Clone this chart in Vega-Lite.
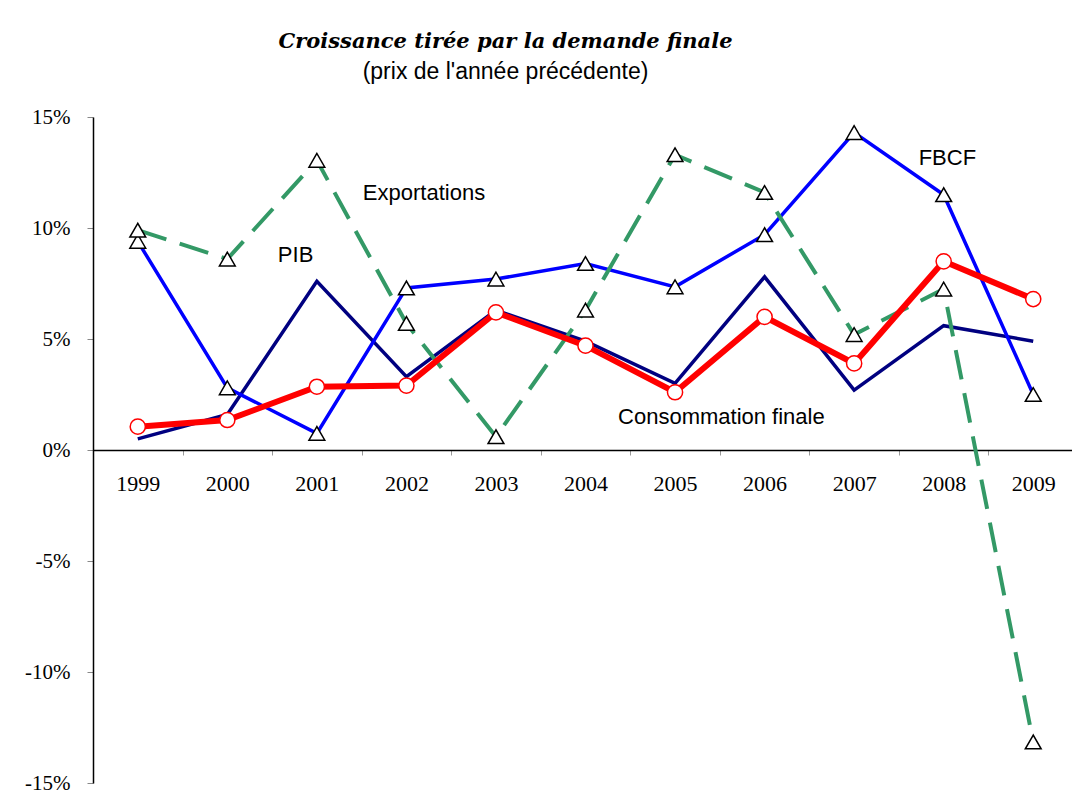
{
  "$schema": "https://vega.github.io/schema/vega-lite/v6.json",
  "width": 985,
  "height": 666,
  "autosize": {"type": "none"},
  "padding": {"left": 93, "top": 117, "right": 0, "bottom": 19},
  "background": "white",
  "config": {"view": {"stroke": null}},
  "title": {
    "text": "Croissance tirée par la demande finale",
    "subtitle": "(prix de l'année précédente)",
    "anchor": "middle",
    "frame": "group",
    "dx": -80,
    "offset": 22,
    "font": "DejaVu Serif",
    "fontSize": 21,
    "fontStyle": "italic",
    "fontWeight": "bold",
    "color": "black",
    "subtitleFont": "Liberation Sans",
    "subtitleFontSize": 23,
    "subtitleColor": "black",
    "subtitlePadding": 9
  },
  "datasets": {
    "series": [
      {"year": "1999", "serie": "PIB", "value": 0.5},
      {"year": "2000", "serie": "PIB", "value": 1.6},
      {"year": "2001", "serie": "PIB", "value": 7.6},
      {"year": "2002", "serie": "PIB", "value": 3.3},
      {"year": "2003", "serie": "PIB", "value": 6.3},
      {"year": "2004", "serie": "PIB", "value": 4.9},
      {"year": "2005", "serie": "PIB", "value": 3.0},
      {"year": "2006", "serie": "PIB", "value": 7.8},
      {"year": "2007", "serie": "PIB", "value": 2.7},
      {"year": "2008", "serie": "PIB", "value": 5.6},
      {"year": "2009", "serie": "PIB", "value": 4.9},
      {"year": "1999", "serie": "Consommation", "value": 1.05},
      {"year": "2000", "serie": "Consommation", "value": 1.35},
      {"year": "2001", "serie": "Consommation", "value": 2.85},
      {"year": "2002", "serie": "Consommation", "value": 2.9},
      {"year": "2003", "serie": "Consommation", "value": 6.2},
      {"year": "2004", "serie": "Consommation", "value": 4.7},
      {"year": "2005", "serie": "Consommation", "value": 2.6},
      {"year": "2006", "serie": "Consommation", "value": 6.0},
      {"year": "2007", "serie": "Consommation", "value": 3.9},
      {"year": "2008", "serie": "Consommation", "value": 8.5},
      {"year": "2009", "serie": "Consommation", "value": 6.8},
      {"year": "1999", "serie": "FBCF", "value": 9.4},
      {"year": "2000", "serie": "FBCF", "value": 2.8},
      {"year": "2001", "serie": "FBCF", "value": 0.75},
      {"year": "2002", "serie": "FBCF", "value": 7.3},
      {"year": "2003", "serie": "FBCF", "value": 7.7},
      {"year": "2004", "serie": "FBCF", "value": 8.4},
      {"year": "2005", "serie": "FBCF", "value": 7.35},
      {"year": "2006", "serie": "FBCF", "value": 9.7},
      {"year": "2007", "serie": "FBCF", "value": 14.3},
      {"year": "2008", "serie": "FBCF", "value": 11.5},
      {"year": "2009", "serie": "FBCF", "value": 2.5},
      {"year": "1999", "serie": "Exportations", "value": 9.9},
      {"year": "2000", "serie": "Exportations", "value": 8.6},
      {"year": "2001", "serie": "Exportations", "value": 13.05},
      {"year": "2002", "serie": "Exportations", "value": 5.7},
      {"year": "2003", "serie": "Exportations", "value": 0.6},
      {"year": "2004", "serie": "Exportations", "value": 6.3},
      {"year": "2005", "serie": "Exportations", "value": 13.3},
      {"year": "2006", "serie": "Exportations", "value": 11.6},
      {"year": "2007", "serie": "Exportations", "value": 5.2},
      {"year": "2008", "serie": "Exportations", "value": 7.25},
      {"year": "2009", "serie": "Exportations", "value": -13.15}
    ]
  },
  "encoding": {
    "x": {
      "field": "year",
      "type": "ordinal",
      "scale": {"type": "band", "paddingInner": 0, "paddingOuter": 0},
      "axis": {
        "title": null,
        "orient": "bottom",
        "offset": -333,
        "domainColor": "black",
        "domainWidth": 1.5,
        "tickBand": "extent",
        "tickColor": "#999999",
        "tickSize": 5,
        "labelFont": "Liberation Serif",
        "labelFontSize": 22,
        "labelColor": "black",
        "labelPadding": 18,
        "labelAngle": 0
      }
    },
    "y": {
      "field": "value",
      "type": "quantitative",
      "scale": {"domain": [-15, 15], "nice": false, "zero": false},
      "axis": {
        "title": null,
        "values": [-15, -10, -5, 0, 5, 10, 15],
        "labelExpr": "datum.value + '%'",
        "grid": false,
        "domainColor": "black",
        "domainWidth": 1.5,
        "tickColor": "#888888",
        "tickSize": 6,
        "labelFont": "Liberation Serif",
        "labelFontSize": 21,
        "labelColor": "black",
        "labelPadding": 17
      }
    }
  },
  "layer": [
    {
      "data": {"name": "series"},
      "transform": [{"filter": "datum.serie == 'PIB'"}],
      "mark": {"type": "line", "color": "#000080", "strokeWidth": 3.5}
    },
    {
      "data": {"name": "series"},
      "transform": [{"filter": "datum.serie == 'FBCF'"}],
      "mark": {"type": "line", "color": "#0000FF", "strokeWidth": 3.5}
    },
    {
      "data": {"name": "series"},
      "transform": [{"filter": "datum.serie == 'Exportations'"}],
      "mark": {"type": "line", "color": "#339966", "strokeWidth": 4, "strokeDash": [30, 14]}
    },
    {
      "data": {"name": "series"},
      "transform": [{"filter": "datum.serie == 'Consommation'"}],
      "mark": {"type": "line", "color": "#FF0000", "strokeWidth": 6}
    },
    {
      "data": {"name": "series"},
      "transform": [{"filter": "datum.serie == 'FBCF' || datum.serie == 'Exportations'"}],
      "mark": {"type": "point", "shape": "triangle-up", "size": 250, "filled": true, "fill": "white", "stroke": "black", "strokeWidth": 1.5, "opacity": 1}
    },
    {
      "data": {"name": "series"},
      "transform": [{"filter": "datum.serie == 'Consommation'"}],
      "mark": {"type": "point", "shape": "circle", "size": 230, "filled": true, "fill": "white", "stroke": "#FF0000", "strokeWidth": 1.5, "opacity": 1}
    },
    {
      "data": {"values": [{"year": "2001", "value": 11.57, "label": "Exportations"}]},
      "mark": {"type": "text", "align": "left", "baseline": "middle", "dx": 46, "font": "Liberation Sans", "fontSize": 22, "color": "black"},
      "encoding": {"text": {"field": "label"}}
    },
    {
      "data": {"values": [{"year": "2001", "value": 8.78, "label": "PIB"}]},
      "mark": {"type": "text", "align": "left", "baseline": "middle", "dx": -39, "font": "Liberation Sans", "fontSize": 22, "color": "black"},
      "encoding": {"text": {"field": "label"}}
    },
    {
      "data": {"values": [{"year": "2008", "value": 13.15, "label": "FBCF"}]},
      "mark": {"type": "text", "align": "left", "baseline": "middle", "dx": -25, "font": "Liberation Sans", "fontSize": 22, "color": "black"},
      "encoding": {"text": {"field": "label"}}
    },
    {
      "data": {"values": [{"year": "2005", "value": 1.49, "label": "Consommation finale"}]},
      "mark": {"type": "text", "align": "left", "baseline": "middle", "dx": -57, "font": "Liberation Sans", "fontSize": 22, "color": "black"},
      "encoding": {"text": {"field": "label"}}
    }
  ]
}
